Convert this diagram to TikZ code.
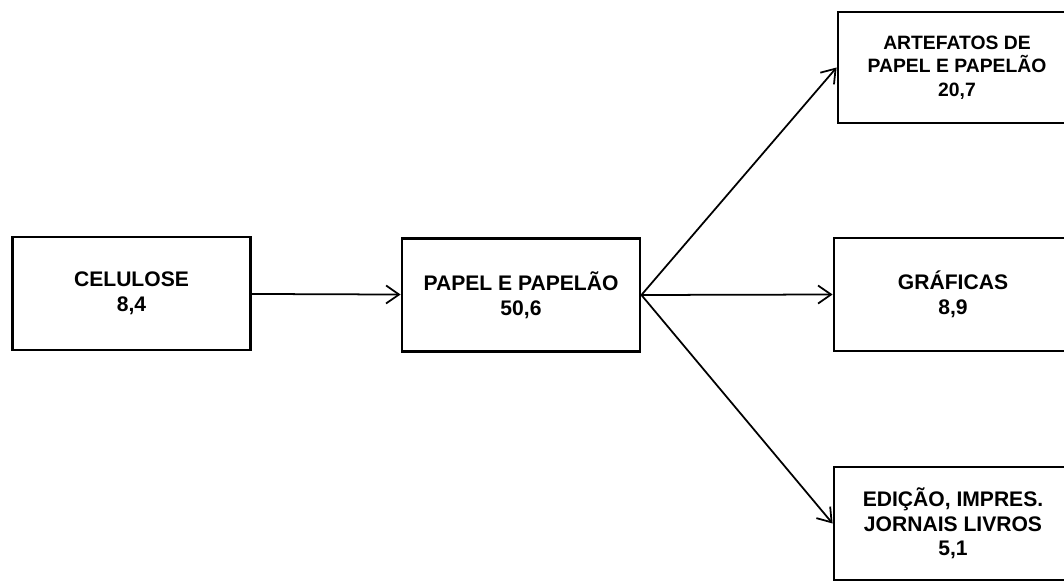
\documentclass[tikz,border=0pt]{standalone}
\usepackage{fontspec}
\setmainfont{Liberation Sans}
\usetikzlibrary{arrows.meta,positioning}
\tikzset{
  setor/.style={
    draw,
    line width=1.6pt,
    minimum width=4.76cm,
    minimum height=2.26cm,
    align=center,
    inner sep=0pt,
    font=\bfseries\fontsize{12}{14}\selectfont
  },
  fluxo/.style={
    -{Straight Barb[length=2.6mm,width=3.6mm]},
    line width=1pt
  },
}
\begin{document}
\begin{tikzpicture}
		  \useasboundingbox (0,0) rectangle (21.28,-11.64);
		  \node[setor] (celulose) at (2.63,-5.87) {CELULOSE\\8,4};
		  \node[setor] (papel) at (10.42,-5.9) {PAPEL E PAPELÃO\\50,6};
		  \node[setor,minimum height=2.22cm,font=\bfseries\fontsize{11}{13.5}\selectfont] (artefatos) at (19.14,-1.35) {ARTEFATOS DE\\PAPEL E PAPELÃO\\20,7};
		  \node[setor] (graficas) at (19.06,-5.89) {GRÁFICAS\\8,9};
		  \node[setor] (edicao) at (19.06,-10.47) {EDIÇÃO, IMPRES.\\JORNAIS LIVROS\\5,1};
		  \draw[fluxo] (celulose) -- (papel);
		  \foreach \s in {artefatos,graficas,edicao}{
		    \draw[fluxo] (papel.east) -- (\s.west);
		  }
		\end{tikzpicture}
\end{document}
